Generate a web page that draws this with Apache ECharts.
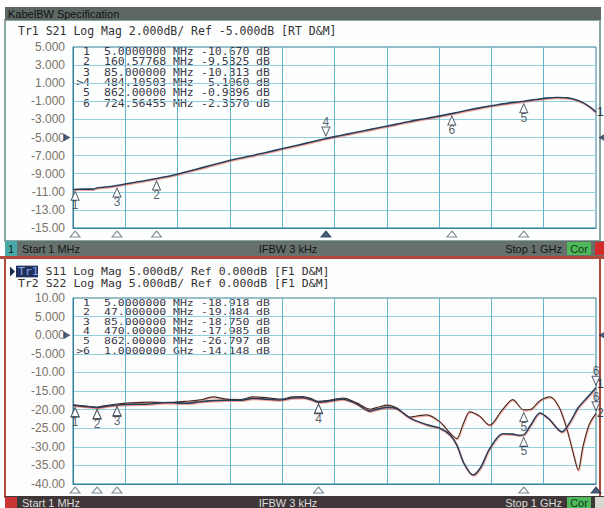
<!DOCTYPE html>
<html>
<head>
<meta charset="utf-8">
<script src="https://cdn.jsdelivr.net/npm/echarts@6/dist/echarts.min.js"></script>
<style>
  html, body { margin: 0; padding: 0; background: #fff; }
  #chart { width: 604px; height: 508px; }
</style>
</head>
<body>
<div id="chart"></div>
<script>
// ---- top panel: Tr1 S21 (MHz / dB) ----
const s21Freq = [1, 10, 25, 40, 48, 60, 85, 110, 135, 160.6, 190, 220, 250, 280, 310, 340, 370, 400, 430, 460, 484.1,
  510, 540, 570, 600, 630, 660, 690, 724.6, 750, 780, 810, 840, 862, 885, 905, 925, 945, 960, 975, 990, 1000];
const s21Db = [-10.75, -10.72, -10.70, -10.70, -10.55, -10.50, -10.31, -10.05, -9.80, -9.53, -9.20, -8.75, -8.30, -7.85,
  -7.40, -7.05, -6.65, -6.25, -5.85, -5.45, -5.11, -4.80, -4.45, -4.10, -3.75, -3.40, -3.05, -2.75, -2.36, -2.05,
  -1.70, -1.40, -1.15, -0.99, -0.80, -0.65, -0.58, -0.62, -0.80, -1.15, -1.70, -2.20];

// ---- lower panel: Tr1 S11 and Tr2 S22 ----
const s11Freq = [1, 5, 20, 35, 47, 60, 85, 110, 148, 181, 215, 244, 268, 295, 320, 345, 370, 396, 420, 440, 455, 470,
  486, 517, 543, 568, 585, 601, 620, 645, 677, 702, 721, 734, 748, 765, 780, 797, 822, 841, 855, 862, 876, 893, 910,
  935, 950, 966, 985, 1000];
const s11Db = [-18.8, -18.918, -19.1, -19.3, -19.484, -19.2, -18.75, -18.6, -18.5, -18.1, -18.3, -17.9, -17.6, -17.5,
  -17.5, -17.0, -17.2, -17.4, -16.9, -16.8, -17.3, -17.985, -17.8, -17.2, -18.5, -20.4, -19.8, -19.4, -19.8, -22.3,
  -24.1, -25.0, -26.8, -29.5, -34.5, -37.6, -35.5, -30.5, -26.5, -26.6, -26.9, -26.797, -24.0, -20.9, -22.5, -26.0,
  -23.5, -19.5, -16.5, -14.148];
const s22Freq = [1, 5, 20, 47, 60, 85, 110, 148, 181, 215, 244, 268, 295, 320, 345, 370, 396, 420, 440, 455, 470, 486,
  517, 543, 568, 585, 601, 620, 645, 662, 677, 702, 721, 734, 746, 759, 778, 797, 820, 841, 862, 876, 893, 912, 930,
  945, 958, 966, 975, 987, 1000];
const s22Db = [-18.7, -18.8, -19.0, -19.3, -19.0, -18.5, -18.2, -18.0, -18.1, -17.8, -17.4, -16.6, -17.2, -17.3, -16.6,
  -16.8, -17.2, -16.6, -16.5, -17.0, -17.8, -17.6, -16.9, -18.2, -19.9, -19.3, -18.8, -19.6, -22.0, -21.6, -21.4,
  -23.3, -26.3, -27.8, -24.0, -20.6, -21.8, -24.2, -20.3, -17.3, -20.1, -19.9, -17.6, -16.6, -19.5, -25.5, -32.5,
  -36.3, -30.0, -24.0, -21.0];

// ---- markers ----
const topMarkerIds = ['1', '2', '3', '>4', '5', '6'];
const topMarkerFreq = [5, 160.57768, 85, 484.10503, 862, 724.56455];
const topMarkerFreqText = ['5.0000000', '160.57768', '85.000000', '484.10503', '862.00000', '724.56455'];
const topMarkerUnit = ['MHz', 'MHz', 'MHz', 'MHz', 'MHz', 'MHz'];
const topMarkerValText = ['-10.670', '-9.5325', '-10.313', '-5.1060', '-0.9896', '-2.3570'];
const topActive = 3;

const lowMarkerIds = ['1', '2', '3', '4', '5', '>6'];
const lowMarkerFreq = [5, 47, 85, 470, 862, 1000];
const lowMarkerFreqText = ['5.0000000', '47.000000', '85.000000', '470.00000', '862.00000', '1.0000000'];
const lowMarkerUnit = ['MHz', 'MHz', 'MHz', 'MHz', 'MHz', 'GHz'];
const lowMarkerValText = ['-18.918', '-19.484', '-18.750', '-17.985', '-26.797', '-14.148'];
const s22MarkerDb = [-18.8, -19.3, -18.5, -17.8, -20.1, -21.0];
const lowActive = 5;

// ---- tick labels (top to bottom) ----
const topYLabels = ['5.000', '3.000', '1.000', '-1.000', '-3.000', '-5.000', '-7.000', '-9.000', '-11.00', '-13.00', '-15.00'];
const lowYLabels = ['10.00', '5.000', '0.000', '-5.000', '-10.00', '-15.00', '-20.00', '-25.00', '-30.00', '-35.00', '-40.00'];

const MONO = '11.5px "DejaVu Sans Mono"';
const SANS = '11px "Liberation Sans"';
const GRID_V = '#62b3cc';
const GRID_H = '#93cfdf';
const FRAME = '#2f7f98';
const TRACE1 = '#233f5c';
const TRACE2 = '#4a2c24';
const MARK = '#2c3846';
const DOWN = 'path://M0,0 L10,0 L5,10 Z';

const zip = (xs, ys) => xs.map((x, i) => [x, ys[i]]);

function traceSeries(xi, yi, freq, db, color, width, endText, endDy) {
  return {
    type: 'line', xAxisIndex: xi, yAxisIndex: yi, data: zip(freq, db),
    showSymbol: false, smooth: 0.3, silent: true, z: 4,
    lineStyle: { color, width, shadowColor: 'rgba(225,95,70,0.55)', shadowBlur: 1, shadowOffsetX: 0.5, shadowOffsetY: 1 },
    endLabel: { show: true, formatter: endText, color: MARK, font: '10px "DejaVu Sans"', distance: 1, offset: [0, endDy || 0] }
  };
}

// labelMask: which markers carry their number (the second trace's labels would sit on the first's)
function markerSeries(xi, yi, freqs, vals, active, labelMask) {
  const passive = [], act = [];
  freqs.forEach((f, i) => {
    const item = { value: [f, vals[i]], name: String(i + 1) };
    if (labelMask && !labelMask[i]) item.label = { show: false };
    (i === active ? act : passive).push(item);
  });
  const lab = { show: true, color: MARK, font: '10px "DejaVu Sans"', distance: 0, lineHeight: 9, formatter: p => p.name };
  return [
    { type: 'scatter', xAxisIndex: xi, yAxisIndex: yi, data: passive, symbol: 'triangle', symbolSize: [8, 9],
      symbolOffset: [0, 7], itemStyle: { color: '#fff', borderColor: MARK, borderWidth: 1 }, clip: false, silent: true, z: 6,
      label: Object.assign({ position: 'bottom' }, lab) },
    { type: 'scatter', xAxisIndex: xi, yAxisIndex: yi, data: act, symbol: DOWN, symbolSize: [8, 9],
      symbolOffset: [0, -7], itemStyle: { color: '#fff', borderColor: MARK, borderWidth: 1 }, clip: false, silent: true, z: 6,
      label: Object.assign({ position: 'top' }, lab) }
  ];
}

function footSeries(xi, yi, freqs, yMin, active) {
  return {
    type: 'scatter', xAxisIndex: xi, yAxisIndex: yi, symbol: 'triangle', symbolSize: [10, 6], symbolOffset: [0, 6],
    clip: false, silent: true, z: 6,
    itemStyle: { color: '#fff', borderColor: '#5a6d80', borderWidth: 1 },
    data: freqs.map((f, i) => i === active
      ? { value: [f, yMin], itemStyle: { color: '#1f3552', borderColor: '#1f3552' } }
      : [f, yMin])
  };
}

function refArrows(xi, yi, ref) {
  return {
    type: 'scatter', xAxisIndex: xi, yAxisIndex: yi, symbol: 'triangle', symbolSize: [8, 7], clip: false, silent: true,
    itemStyle: { color: '#1f3552' }, z: 6,
    data: [
      { value: [1, ref], symbolRotate: -90, symbolOffset: [-6, 0] },
      { value: [1000, ref], symbolRotate: 90, symbolOffset: [6, 0] }
    ]
  };
}

// marker readout table; rows sit closer than the font height, so the group is squeezed vertically
function tableGroup(ids, freqText, units, valText, top, step, sy) {
  const kids = [];
  const st = { font: MONO, fill: '#3a3a48', verticalAlign: 'middle' };
  ids.forEach((id, i) => {
    const y = i * step / sy;
    kids.push({ type: 'text', x: 90, y, style: Object.assign({ text: id, align: 'right' }, st) });
    kids.push({ type: 'text', x: 104, y, style: Object.assign({ text: freqText[i] }, st) });
    kids.push({ type: 'text', x: 173, y, style: Object.assign({ text: units[i] }, st) });
    kids.push({ type: 'text', x: 201, y, style: Object.assign({ text: valText[i] }, st) });
    kids.push({ type: 'text', x: 256, y, style: Object.assign({ text: 'dB' }, st) });
  });
  return { type: 'group', x: 0, y: top, scaleY: sy, children: kids };
}

function dataX(gi) {
  return { gridIndex: gi, type: 'value', min: 1, max: 1000, show: false };
}
function divX(gi) {
  return {
    gridIndex: gi, type: 'value', min: 0, max: 10, interval: 1, position: 'bottom',
    axisLine: { show: true, lineStyle: { color: FRAME, width: 1 } }, axisTick: { show: false }, axisLabel: { show: false },
    splitLine: { show: true, showMinLine: false, showMaxLine: false, lineStyle: { color: GRID_V, width: 1 } }
  };
}
function dataY(gi, min, max) {
  return { gridIndex: gi, type: 'value', min, max, show: false };
}
function divY(gi, labels) {
  return {
    gridIndex: gi, type: 'value', min: 0, max: 10, interval: 1, position: 'left',
    axisLine: { show: true, lineStyle: { color: FRAME, width: 1 } }, axisTick: { show: false },
    axisLabel: { show: true, margin: 8, color: '#7c7368', font: MONO, formatter: v => labels[10 - v] },
    splitLine: { show: true, showMinLine: false, showMaxLine: false, lineStyle: { color: GRID_H, width: 1 } }
  };
}

const HS = 0.9; // vertical squeeze of the two lower header lines
const lowHeader = {
  type: 'group', x: 0, y: 271.5, scaleY: HS,
  children: [
    { type: 'polygon', shape: { points: [[10, -5.5], [15, 0], [10, 5.5]] }, style: { fill: '#1c2c50' } },
    { type: 'rect', shape: { x: 16, y: -6.5, width: 22, height: 13 }, style: { fill: '#22305c' } },
    { type: 'text', x: 18, y: 0, style: { text: 'Tr1', font: MONO, fill: '#86a6ee', verticalAlign: 'middle' } },
    { type: 'text', x: 45.6, y: 0, style: { text: 'S11 Log Mag 5.000dB/ Ref 0.000dB [F1 D&M]', font: MONO, fill: '#333', verticalAlign: 'middle' } },
    { type: 'text', x: 18, y: 12.5 / HS, style: { text: 'Tr2 S22 Log Mag 5.000dB/ Ref 0.000dB [F1 D&M]', font: MONO, fill: '#333', verticalAlign: 'middle' } }
  ]
};

const graphics = [
  // outer panels
  { type: 'rect', shape: { x: 5, y: 20, width: 595, height: 221 }, style: { fill: '#fdfefe', stroke: '#8aa5a3', lineWidth: 2 }, z: -10 },
  { type: 'rect', shape: { x: 5, y: 258, width: 595, height: 239 }, style: { fill: '#fefdfd', stroke: '#b3493b', lineWidth: 2 }, z: -10 },
  // title bar
  { type: 'rect', shape: { x: 5, y: 7, width: 596, height: 13 }, style: { fill: '#5d6864' } },
  { type: 'text', x: 8, y: 14, style: { text: 'KabelBW Specification', font: SANS, fill: '#111', verticalAlign: 'middle' } },
  // headers
  { type: 'text', x: 18, y: 31, style: { text: 'Tr1 S21 Log Mag 2.000dB/ Ref -5.000dB [RT D&M]', font: MONO, fill: '#333', verticalAlign: 'middle' } },
  lowHeader,
  // top status bar
  { type: 'rect', shape: { x: 5, y: 241, width: 599, height: 15 }, style: { fill: '#66716d' } },
  { type: 'rect', shape: { x: 5, y: 241, width: 12, height: 15 }, style: { fill: '#47aaa6' } },
  { type: 'text', x: 8, y: 248.5, style: { text: '1', font: SANS, fill: '#102020', verticalAlign: 'middle' } },
  { type: 'text', x: 22, y: 248.5, style: { text: 'Start 1 MHz', font: SANS, fill: '#151515', verticalAlign: 'middle' } },
  { type: 'text', x: 288, y: 248.5, style: { text: 'IFBW 3 kHz', font: SANS, fill: '#151515', align: 'center', verticalAlign: 'middle' } },
  { type: 'text', x: 562, y: 248.5, style: { text: 'Stop 1 GHz', font: SANS, fill: '#151515', align: 'right', verticalAlign: 'middle' } },
  { type: 'rect', shape: { x: 567, y: 242, width: 24, height: 13 }, style: { fill: '#4fb85a' } },
  { type: 'text', x: 579, y: 248.5, style: { text: 'Cor', font: SANS, fill: '#0f3a14', align: 'center', verticalAlign: 'middle' } },
  { type: 'rect', shape: { x: 595, y: 242, width: 9, height: 13 }, style: { fill: '#d42a2a' } },
  { type: 'rect', shape: { x: 0, y: 256, width: 604, height: 3 }, style: { fill: '#b3493b' } },
  // lower status bar
  { type: 'rect', shape: { x: 5, y: 496, width: 599, height: 12 }, style: { fill: '#3f3737' } },
  { type: 'rect', shape: { x: 5, y: 497, width: 12, height: 11 }, style: { fill: '#c93434' } },
  { type: 'text', x: 22, y: 502.5, style: { text: 'Start 1 MHz', font: SANS, fill: '#dcdcdc', verticalAlign: 'middle' } },
  { type: 'text', x: 288, y: 502.5, style: { text: 'IFBW 3 kHz', font: SANS, fill: '#dcdcdc', align: 'center', verticalAlign: 'middle' } },
  { type: 'text', x: 562, y: 502.5, style: { text: 'Stop 1 GHz', font: SANS, fill: '#dcdcdc', align: 'right', verticalAlign: 'middle' } },
  { type: 'rect', shape: { x: 567, y: 497, width: 24, height: 11 }, style: { fill: '#4fb85a' } },
  { type: 'text', x: 579, y: 502.5, style: { text: 'Cor', font: SANS, fill: '#0f3a14', align: 'center', verticalAlign: 'middle' } },
  { type: 'rect', shape: { x: 595, y: 497, width: 9, height: 11 }, style: { fill: '#d8d8d0' } },
  tableGroup(topMarkerIds, topMarkerFreqText, topMarkerUnit, topMarkerValText, 51.5, 10.4, 0.88),
  tableGroup(lowMarkerIds, lowMarkerFreqText, lowMarkerUnit, lowMarkerValText, 302, 9.6, 0.82)
];

const topMarkerDb = topMarkerValText.map(Number);
const lowMarkerDb = lowMarkerValText.map(Number);
const s22LabelMask = lowMarkerDb.map((v, i) => Math.abs(v - s22MarkerDb[i]) > 1.5);

const option = {
  animation: false,
  backgroundColor: '#ffffff',
  grid: [
    { left: 73, top: 47, width: 523, height: 181, show: true, borderColor: FRAME, borderWidth: 1, backgroundColor: 'transparent' },
    { left: 73, top: 298, width: 523, height: 186, show: true, borderColor: FRAME, borderWidth: 1, backgroundColor: 'transparent' }
  ],
  xAxis: [dataX(0), divX(0), dataX(1), divX(1)],
  yAxis: [dataY(0, -15, 5), divY(0, topYLabels), dataY(1, -40, 10), divY(1, lowYLabels)],
  graphic: graphics,
  series: [
    traceSeries(0, 0, s21Freq, s21Db, TRACE1, 1.6, '1'),
    ...markerSeries(0, 0, topMarkerFreq, topMarkerDb, topActive),
    footSeries(0, 0, topMarkerFreq, -15, topActive),
    refArrows(0, 0, -5),
    traceSeries(2, 2, s22Freq, s22Db, TRACE2, 1.2, '2'),
    traceSeries(2, 2, s11Freq, s11Db, TRACE1, 1.6, '1', -4),
    ...markerSeries(2, 2, lowMarkerFreq, lowMarkerDb, lowActive),
    ...markerSeries(2, 2, lowMarkerFreq, s22MarkerDb, lowActive, s22LabelMask),
    footSeries(2, 2, lowMarkerFreq, -40, lowActive),
    refArrows(2, 2, 0)
  ]
};

const chart = echarts.init(document.getElementById('chart'), null, { renderer: 'svg' });
chart.setOption(option);
</script>
</body>
</html>
